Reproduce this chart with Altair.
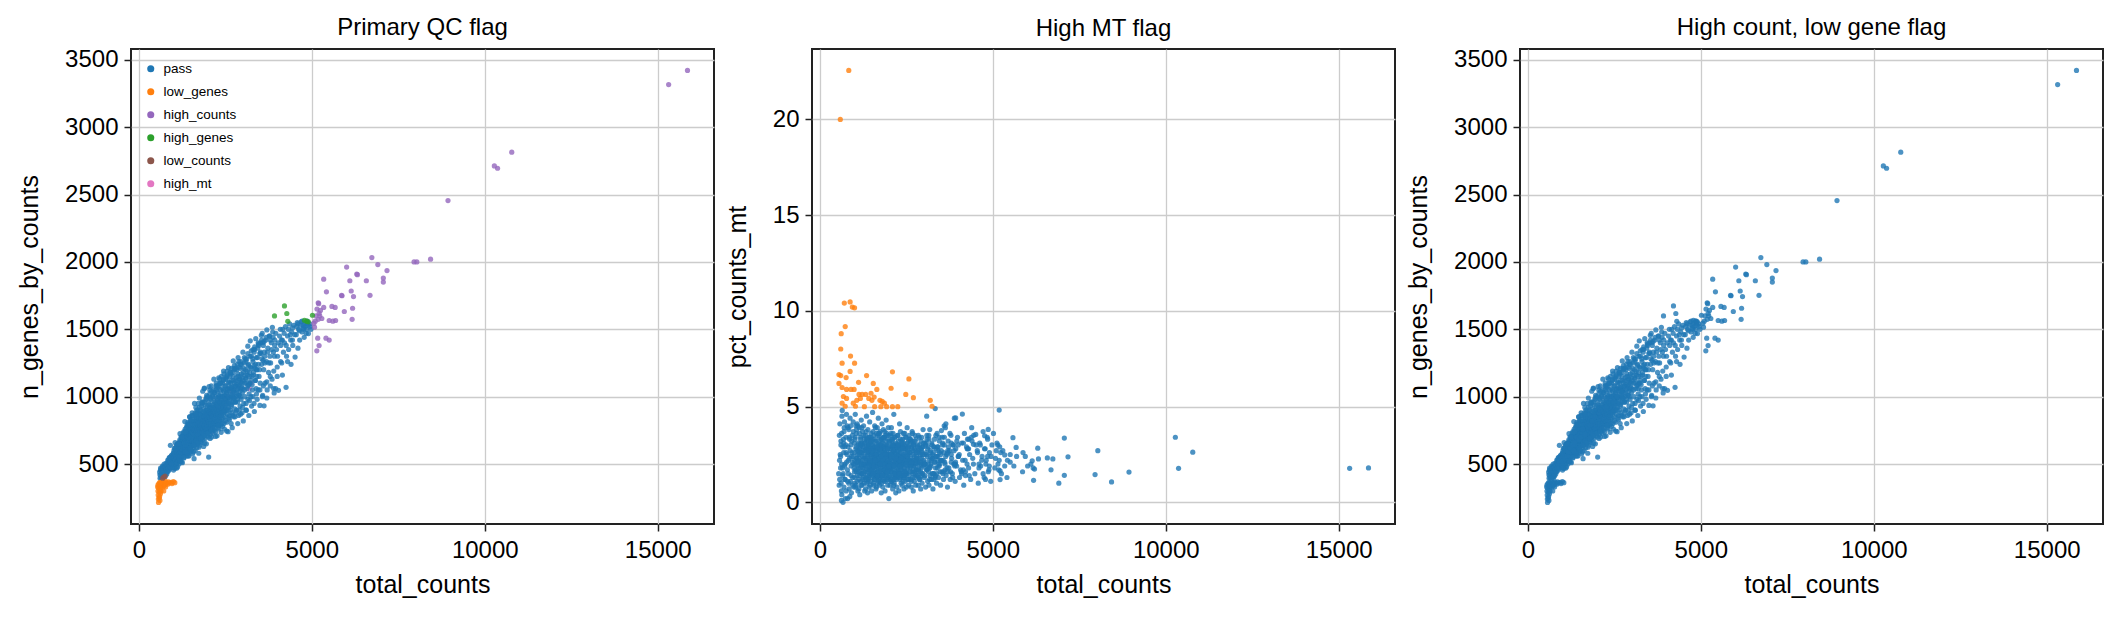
import altair as alt
import pandas as pd

FONT = "Liberation Sans"
FLAGS = ["pass", "low_genes", "high_counts", "high_genes", "low_counts", "high_mt"]
COLORS = ["#1f77b4", "#ff7f0e", "#9467bd", "#2ca02c", "#8c564b", "#e377c2"]
X_TICKS = [0, 5000, 10000, 15000]
Y_TICKS_GENES = [500, 1000, 1500, 2000, 2500, 3000, 3500]
Y_TICKS_MT = [0, 5, 10, 15, 20]
TITLES = ["Primary QC flag", "High MT flag", "High count, low gene flag"]

# cells: (total_counts, n_genes_by_counts, pct_counts_mt)
PASS = [
    (610,420,3.2),(625,455,0.1),(640,398,4.5),(655,440,1.8),(670,470,0.0),(690,412,2.6),(705,480,3.9),(720,430,1.2),(740,462,0.2),(755,405,3.4),(775,448,2.1),(790,490,4.0),
    (805,425,0.2),(815,470,2.9),(825,510,1.5),(840,445,3.8),(850,495,0.7),(860,530,2.3),(875,455,4.4),(885,505,1.1),(895,550,3.0),(905,470,1.9),(915,520,0.5),(930,490,2.6),(940,560,3.5),(950,505,1.3),(965,540,4.2),(975,475,2.0),(985,525,0.8),(995,580,3.1),(912,639,2.4),
    (1005,455,2.2),(1010,530,1.0),(1015,600,3.3),(1025,490,4.6),(1030,560,1.7),(1040,510,2.8),(1050,620,0.9),(1055,470,3.6),(1065,545,2.1),(1075,590,1.4),(1080,505,4.1),(1090,640,2.5),(1100,560,0.6),(1105,525,3.0),(1115,605,1.8),(1120,480,2.7),(1130,570,1.2),(1140,650,3.9),(1145,535,2.3),(1155,600,0.4),(1160,500,1.6),(1170,625,2.9),(1180,555,3.4),(1185,680,1.1),(1190,585,2.0),(1198,520,4.3),
    (1205,610,1.5),(1210,540,2.6),(1215,670,3.1),(1220,580,0.9),(1230,640,2.2),(1235,515,3.7),(1245,700,1.8),(1250,600,2.9),(1260,560,1.3),(1265,655,4.0),(1275,620,2.4),(1280,730,1.0),(1290,585,3.3),(1295,680,2.0),(1305,545,2.7),(1310,640,1.6),(1320,710,3.5),(1325,600,0.7),(1335,665,2.3),(1340,760,1.9),(1350,575,4.5),(1355,630,2.8),(1365,695,1.4),(1370,600,3.2),(1375,740,2.1),(1380,650,0.5),(1385,560,2.5),(1390,700,3.8),(1393,620,1.2),(1396,780,2.6),(1398,680,1.7),(1399,590,3.0),
    (1402,640,2.1),(1408,720,1.3),(1412,580,3.4),(1418,810,2.6),(1425,670,0.8),(1430,750,2.9),(1436,610,1.7),(1441,700,4.2),(1447,560,2.3),(1452,790,1.5),(1458,660,3.1),(1463,730,2.0),(1469,850,2.7),(1474,620,1.1),(1480,690,3.6),(1486,770,2.4),(1491,590,1.9),(1497,710,0.6),(1503,650,2.8),(1508,830,1.6),(1514,740,3.3),(1519,600,2.2),(1525,680,4.7),(1530,760,1.4),(1536,640,2.5),(1541,880,3.0),(1547,700,1.8),(1552,575,2.7),(1558,790,0.9),(1563,660,3.5),(1569,730,2.0),(1574,620,1.2),(1580,810,2.9),(1586,690,4.0),(1591,750,1.7),(1597,540,2.4),
    (1603,700,2.3),(1608,780,1.4),(1613,640,3.2),(1618,860,2.0),(1623,720,0.7),(1628,600,2.8),(1634,810,1.9),(1639,680,3.6),(1644,750,2.5),(1649,920,1.3),(1655,660,2.2),(1660,790,3.9),(1665,710,1.6),(1670,840,2.7),(1676,620,1.0),(1681,740,3.1),(1686,880,2.1),(1691,690,4.4),(1697,770,1.8),(1702,650,2.6),(1707,820,1.2),(1712,730,3.4),(1718,950,2.3),(1723,700,0.9),(1728,800,2.9),(1733,580,1.5),(1739,760,3.7),(1744,680,2.0),(1749,870,1.1),(1754,730,2.4),(1760,640,3.0),(1765,830,1.7),(1770,710,2.8),(1775,780,0.5),(1781,900,3.3),(1786,670,2.2),(1791,750,1.4),(1797,810,4.1),
    (1802,720,2.0),(1807,800,3.2),(1812,660,1.3),(1817,880,2.5),(1822,750,0.8),(1827,950,2.9),(1833,700,1.7),(1838,830,3.8),(1843,780,2.2),(1848,1040,1.5),(1853,680,2.7),(1859,860,1.1),(1864,740,3.4),(1869,910,2.3),(1874,630,1.9),(1880,790,2.6),(1885,850,0.6),(1890,720,3.0),(1896,1063,2.4),(1901,810,1.6),(1906,760,2.9),(1911,940,2.1),(1917,690,4.3),(1922,870,1.4),(1927,800,2.5),(1932,730,3.6),(1938,980,2.0),(1943,840,1.2),(1948,770,2.8),(1953,650,1.8),(1959,900,3.3),(1964,820,0.9),(1969,710,2.4),(1974,880,1.7),(1980,760,3.9),(1985,1000,2.2),(1990,840,1.3),(1996,790,0.2),
    (2003,760,2.1),(2008,880,1.5),(2013,700,3.1),(2019,552,2.4),(2024,960,2.6),(2029,800,0.9),(2035,850,1.8),(2040,740,3.5),(2046,920,2.3),(2051,1050,1.2),(2057,780,2.8),(2062,870,1.6),(2068,720,3.9),(2073,990,2.0),(2079,830,1.1),(2084,900,3.2),(2090,760,2.5),(2095,1080,1.7),(2101,860,2.9),(2106,700,0.7),(2112,940,2.2),(2117,810,3.6),(2123,880,1.4),(2128,770,2.7),(2134,1010,1.9),(2139,840,4.6),(2145,730,2.3),(2150,920,1.0),(2156,860,3.0),(2161,790,2.0),(2167,970,1.5),(2172,820,2.6),(2178,900,3.4),(2183,750,1.3),(2189,880,2.1),(2195,1030,0.5),
    (2204,800,2.4),(2210,920,1.6),(2217,740,3.0),(2223,1000,2.1),(2229,860,0.8),(2236,1100,2.7),(2242,790,1.9),(2248,950,3.5),(2255,880,1.3),(2261,710,2.5),(2267,1040,1.7),(2274,830,3.2),(2280,970,2.2),(2286,900,0.6),(2293,770,2.9),(2299,1080,1.5),(2305,850,4.1),(2312,1010,2.0),(2318,930,1.2),(2324,760,2.6),(2331,880,3.7),(2337,1130,1.8),(2343,960,2.3),(2350,820,1.0),(2356,1050,3.0),(2362,900,2.1),(2369,790,1.4),(2375,990,2.8),(2381,860,0.9),(2388,1150,2.4),(2394,940,3.3),(2399,830,1.6),
    (2405,880,2.0),(2412,1000,1.3),(2419,780,3.1),(2426,1100,2.4),(2433,930,0.7),(2440,840,2.8),(2447,1050,1.8),(2454,960,3.6),(2461,1170,2.2),(2468,880,1.1),(2475,760,2.6),(2482,1010,3.4),(2489,920,1.5),(2496,1080,2.9),(2503,850,0.8),(2510,980,2.1),(2517,1140,1.6),(2524,900,3.9),(2531,1030,2.3),(2538,810,1.2),(2545,950,2.7),(2552,1190,1.9),(2559,870,3.2),(2566,1060,0.9),(2573,990,2.5),(2580,740,1.4),(2587,920,3.0),(2594,1110,2.2),
    (2605,950,1.8),(2613,1060,2.6),(2621,860,3.3),(2629,1150,1.2),(2637,990,2.2),(2645,900,0.8),(2653,1100,2.9),(2661,1020,1.6),(2669,800,3.7),(2677,1210,2.1),(2685,940,1.3),(2693,1070,2.7),(2701,880,0.6),(2709,1000,3.1),(2717,1180,1.9),(2725,960,2.4),(2733,1120,1.1),(2741,850,2.8),(2749,1050,3.5),(2757,990,1.5),(2765,1230,2.2),(2773,910,0.9),(2781,1080,2.6),(2790,960,1.7),
    (2805,1000,2.3),(2815,1120,1.4),(2825,900,3.0),(2835,1200,2.0),(2845,1050,0.9),(2855,960,2.7),(2865,1150,1.6),(2875,1080,3.4),(2885,860,2.1),(2895,1260,1.2),(2905,1010,2.5),(2915,1130,0.7),(2925,930,3.2),(2935,1210,1.8),(2945,1060,2.3),(2955,980,1.0),(2965,1170,2.9),(2975,1100,1.5),(2985,880,3.8),(2995,1030,2.0),
    (3010,1060,2.2),(3022,1180,1.3),(3034,950,3.1),(3046,1250,2.0),(3058,1100,0.8),(3070,1000,2.6),(3082,1200,1.7),(3090,1140,4.5),(3094,1130,3.5),(3106,900,2.4),(3118,1280,1.1),(3130,1060,2.9),(3142,1160,1.6),(3154,980,0.9),(3166,1230,2.2),(3178,1090,3.8),(3190,1020,1.4),(3198,1180,2.7),
    (3210,1100,2.0),(3225,1220,1.2),(3240,1000,3.0),(3255,1300,2.3),(3270,1150,0.7),(3285,1050,2.6),(3300,1260,1.5),(3315,1180,3.3),(3330,950,2.1),(3335,1230,4.9),(3345,1350,1.8),(3360,1120,2.8),(3375,1240,1.0),(3390,1060,3.6),(3398,1200,2.2),
    (3410,1150,2.4),(3430,1290,1.3),(3450,1050,3.4),(3470,1380,2.0),(3490,1200,0.9),(3510,1100,2.7),(3515,1330,3.75),(3530,1320,1.6),(3550,1240,3.1),(3567,1469,2.2),(3575,1000,1.2),(3585,1400,2.6),(3595,1270,4.0),
    (3610,1200,2.1),(3620,932,1.7),(3630,1330,3.9),(3644,1250,4.1),(3650,1100,1.4),(3670,1420,2.5),(3690,1260,0.8),(3710,1050,3.2),(3730,1360,1.8),(3750,1180,2.7),(3770,1450,1.2),(3790,1300,3.5),
    (3810,1250,2.3),(3830,1400,1.5),(3850,1130,3.0),(3870,1480,2.0),(3890,1330,4.4),(3912,1028,1.1),(3927,1380,4.41),(3930,1420,2.8),(3955,1060,1.9),(3980,1350,3.4),
    (4010,1300,2.4),(4038,1047,1.3),(4070,1450,1.7),(4100,1380,3.1),(4120,1420,4.61),(4130,1250,2.2),(4160,1500,0.9),(4180,1330,3.6),(4256,1069,2.0),
    (4210,1400,1.4),(4240,1520,2.9),(4270,1300,3.3),(4300,1450,1.8),(4330,1350,2.5),(4360,1540,1.2),(4390,1420,3.9),
    (4420,1480,2.3),(4442,1510,3.03),(4450,1380,3.5),(4480,1530,1.5),(4507,1460,3.55),(4517,1294,3.0),(4550,1460,2.7),(4580,1550,1.0),
    (4620,1500,3.1),(4650,1420,1.9),(4690,1555,2.4),(4720,1480,3.7),(4750,1530,1.3),(4764,1500,3.48),(4780,1440,2.8),
    (4810,1520,2.2),(4840,1470,3.4),(4867,1545,3.81),(4870,1560,1.6),(4903,1468,2.6),(4940,1540,1.1),(4975,1500,3.0),
]

PASS_CORE = [
    (602,440,2.4),(615,395,1.0),(628,470,3.6),(636,420,0.4),(648,455,4.8),(662,400,2.9),(676,430,1.5),(684,485,3.3),(698,445,0.8),(712,470,4.2),(726,415,2.0),(733,500,1.2),(748,440,3.0),(762,480,0.6),(770,425,4.6),(784,505,2.5),(798,460,1.7),(812,440,3.9),(826,490,2.2),(838,530,1.0),(852,470,3.4),(866,500,0.3),(878,545,2.7),(892,480,4.0),(906,515,1.4),(921,550,3.2),(936,505,2.1),(952,565,0.9),(968,500,3.7),(988,550,1.8),
    (1003,580,2.6),(1012,495,1.3),(1021,545,3.4),(1029,615,2.0),(1037,470,0.8),(1046,575,2.9),(1054,530,1.6),(1062,600,3.8),(1071,500,2.3),(1079,555,1.1),(1088,625,2.7),(1096,540,4.0),(1104,585,1.9),(1113,510,3.1),(1121,650,2.2),(1129,565,0.7),(1138,600,2.5),(1146,525,3.6),(1154,640,1.4),(1163,575,2.8),(1171,545,1.8),(1179,665,3.3),(1188,610,2.1),(1196,560,0.9),(1204,640,2.6),(1213,590,3.9),(1221,700,1.5),(1229,620,2.4),(1238,555,3.0),(1246,660,1.2),(1254,600,2.7),(1263,710,2.0),(1271,640,3.5),(1279,580,1.6),(1288,675,2.3),(1296,620,0.6),(1304,740,3.1),(1313,655,1.9),(1321,590,2.8),(1329,700,1.3),(1338,630,3.7),(1346,680,2.2),(1354,610,1.0),(1363,720,2.9),(1371,660,1.7),(1379,770,3.3),(1388,640,2.4),(1396,700,1.1),(1404,600,3.0),(1413,745,2.0),(1421,660,2.6),(1429,700,1.4),(1438,800,3.4),(1446,640,2.1),(1454,720,0.9),(1463,680,2.8),(1471,760,1.8),(1479,620,3.2),(1488,710,2.5),(1496,820,1.5),
    (1502,690,2.2),(1509,760,1.3),(1516,640,3.0),(1523,720,2.6),(1530,800,1.8),(1537,670,3.7),(1544,740,2.1),(1551,860,1.0),(1558,700,2.8),(1565,760,1.6),(1572,640,3.3),(1579,730,2.4),(1586,820,1.2),(1593,690,2.9),(1600,750,2.0),(1607,660,3.9),(1614,790,1.5),(1621,720,2.7),(1628,880,2.2),(1635,760,0.8),(1642,700,3.2),(1649,830,1.9),(1656,740,2.5),(1663,680,1.4),(1670,780,3.5),(1677,720,2.1),(1684,850,1.7),(1691,760,2.9),(1698,700,1.1),(1705,800,3.0),(1712,740,2.3),(1719,900,1.6),(1726,780,2.6),(1733,720,3.6),(1740,840,1.3),(1747,760,2.0),(1754,690,2.8),(1761,810,1.8),(1768,740,3.3),(1775,870,2.4),(1782,780,1.0),(1789,720,2.7),(1796,840,2.1),(1803,760,3.1),(1810,930,1.5),(1817,800,2.5),(1824,740,1.9),(1831,860,3.4),(1838,770,2.2),(1845,700,1.2),(1852,820,2.9),(1859,760,1.7),(1866,890,2.6),(1873,800,3.7),(1880,740,2.0),(1887,850,1.4),(1894,780,2.8),(1901,960,2.3),(1908,820,1.1),(1915,760,3.2),(1922,880,2.0),(1929,800,2.6),(1936,740,1.6),(1943,900,3.0),(1950,820,2.4),(1957,760,1.3),(1964,860,2.9),(1971,790,1.9),(1978,930,3.5),(1985,830,2.2),
    (2002,810,2.5),(2010,900,1.4),(2018,760,3.2),(2025,850,2.1),(2033,940,1.8),(2041,800,2.8),(2048,880,1.1),(2056,760,3.6),(2064,920,2.3),(2071,840,1.6),(2079,980,2.9),(2087,800,2.0),(2094,870,3.3),(2102,760,1.3),(2110,910,2.6),(2117,850,1.9),(2125,1000,3.0),(2133,820,2.4),(2140,890,0.9),(2148,780,2.7),(2156,940,1.7),(2163,860,3.4),(2171,800,2.2),(2179,1030,1.5),(2186,900,2.8),(2194,840,2.0),(2202,960,3.1),(2209,880,1.2),(2217,800,2.5),(2225,920,1.8),(2232,1050,2.9),(2240,860,2.3),(2248,940,1.4),(2255,820,3.5),(2263,990,2.0),(2271,900,2.7),(2278,840,1.6),(2286,1070,2.4),(2294,930,3.0),(2301,870,1.9),(2309,960,2.2),(2317,820,2.8),(2324,1000,1.3),(2332,900,3.3),(2340,850,2.1),(2347,1100,1.7),(2355,960,2.6),(2363,880,2.0),(2370,1020,3.2),(2378,920,1.5),(2386,860,2.4),(2393,980,2.9),(2401,900,1.1),(2409,1060,2.3),(2416,940,3.6),(2424,880,1.8),(2432,1000,2.5),(2439,920,2.0),(2447,1120,1.4),(2455,960,3.0),(2462,890,2.2),(2470,1040,1.6),(2478,950,2.8),(2485,1000,2.1),(2493,900,3.4),
    (2505,980,2.2),(2516,1080,1.5),(2527,920,3.1),(2538,1020,2.4),(2549,1150,1.8),(2560,960,2.9),(2571,1050,1.2),(2582,900,3.5),(2593,1000,2.0),(2604,1100,2.6),(2615,960,1.6),(2626,1040,3.2),(2637,1180,2.3),(2648,990,1.1),(2659,1070,2.8),(2670,930,2.0),(2681,1120,3.6),(2692,1010,1.5),(2703,1060,2.5),(2714,960,1.9),(2725,1150,3.0),(2736,1040,2.2),(2747,990,1.3),(2758,1100,2.7),(2769,1200,2.0),(2780,1030,3.3),(2791,960,1.7),(2802,1080,2.4),(2813,1140,1.4),(2824,1020,2.9),(2835,1090,2.1),(2846,980,3.5),(2857,1170,1.8),(2868,1060,2.6),(2879,1120,1.2),(2890,1010,3.0),(2901,1220,2.3),(2912,1090,1.6),(2923,1040,2.8),(2934,1150,2.0),(2945,1000,3.4),(2956,1110,1.5),(2967,1240,2.5),(2978,1070,1.9),(2989,1140,2.9),
    (3015,1120,2.1),(3035,1210,1.4),(3055,1050,3.0),(3075,1160,2.5),(3095,1260,1.7),(3115,1100,2.8),(3135,1190,2.0),(3155,1080,3.3),(3175,1240,1.2),(3195,1150,2.6),(3215,1300,1.9),(3235,1120,3.1),(3255,1210,2.3),(3275,1090,1.5),(3295,1280,2.9),(3315,1160,2.1),(3335,1330,1.3),(3355,1210,3.5),(3375,1120,2.4),(3395,1290,1.8),(3415,1200,2.7),(3435,1360,2.0),(3455,1240,3.2),(3475,1150,1.6),(3495,1320,2.5),
    (3520,1400,2.2),(3560,1280,1.5),(3600,1380,3.0),(3640,1300,2.4),(3680,1440,1.8),(3720,1330,2.9),(3760,1250,3.6),(3800,1420,2.1),(3840,1350,1.3),(3880,1440,2.7),(3920,1300,2.0),(3960,1470,3.2),
    (4030,1400,2.5),(4090,1500,1.6),(4150,1420,3.1),(4200,1470,2.2),(4260,1380,2.8),(4320,1500,1.4),(4380,1460,3.4),(4440,1420,2.0),
    (4560,1520,2.6),(4600,1540,1.8),(4640,1490,3.0),(4680,1530,2.2),(4720,1560,1.5),(4760,1510,2.8),(4800,1545,2.0),(4850,1500,3.3),(4890,1530,1.7),(4950,1520,2.4),
]

PASS_EDGE_HIGH = [
    (1050,660,2.3),(1120,650,1.6),(1190,725,3.1),(1260,700,2.0),(1330,815,1.2),(1400,790,2.7),(1470,850,3.4),(1540,860,1.9),(1610,950,2.5),(1680,900,1.4),
    (1750,990,3.0),(1820,960,2.2),(1890,1060,1.7),(1960,1010,2.8),(2030,1075,2.0),(2100,1040,3.3),(2170,1130,1.5),(2240,1080,2.4),(2310,1140,1.9),(2380,1100,2.9),
    (2450,1190,1.3),(2520,1130,2.6),(2590,1215,2.1),(2660,1170,3.2),(2730,1265,1.6),(2800,1210,2.3),(2870,1290,2.8),(2940,1240,1.4),(3010,1330,2.5),(3080,1280,3.1),
    (3150,1375,1.8),(3222,1414,2.2),(3300,1350,2.9),(3380,1430,1.5),(3460,1390,2.6),(3540,1455,3.4),(3620,1410,2.0),(3700,1495,2.7),(3780,1450,1.6),(3860,1515,3.0),
]

PASS_EDGE_LOW = [
    (1100,470,2.1),(1180,530,3.0),(1260,510,1.5),(1340,590,2.6),(1420,560,1.9),(1500,620,3.2),(1580,590,2.3),(1660,670,1.4),(1740,625,2.8),(1820,700,2.0),
    (1900,655,3.5),(1980,730,1.7),(2060,690,2.5),(2140,760,1.2),(2220,705,2.9),(2300,790,2.2),(2380,735,3.1),(2460,800,1.6),(2540,745,2.4),(2620,830,1.9),
    (2700,770,3.0),(2780,850,2.1),(2860,800,1.3),(2940,870,2.7),(3020,820,2.0),(3100,900,3.3),(3180,860,1.8),(3260,930,2.5),(3340,890,1.4),(3420,980,2.9),
    (3500,935,2.2),(3580,1010,1.6),(3700,990,2.6),(3800,1080,3.1),(3900,1060,1.9),(4000,1150,2.4),(4150,1160,1.7),(4300,1260,2.8),(4400,1240,3.2),(4600,1360,2.0),
]

PASS_FILL = [
    (1150,650,2.6),(1250,700,1.8),(1350,740,3.3),(1450,790,2.2),(1550,830,1.5),(1650,870,2.9),(1750,920,2.0),(1850,960,3.4),(1950,990,1.6),(2050,1020,2.5),
    (2150,1050,1.9),(2250,1080,3.0),(2350,1100,2.3),(2450,1130,1.4),(2550,1160,2.8),(2650,1180,2.1),(2750,1210,3.2),(2850,1240,1.7),(2950,1260,2.6),(3050,1290,2.0),
    (3150,1320,3.5),(3250,1340,1.5),(3350,1370,2.4),(3450,1400,1.9),(3550,1420,3.0),
    (1200,520,2.0),(1300,550,3.1),(1400,580,1.6),(1500,610,2.7),(1600,640,2.2),(1700,660,3.6),(1800,690,1.4),(1900,710,2.5),(2000,730,1.9),(2100,750,3.0),
    (2200,770,2.3),(2300,790,1.5),(2400,800,2.8),(2500,820,2.0),(2600,840,3.3),(2700,860,1.7),(2800,880,2.6),(2900,900,2.1),(3000,920,3.1),(3100,950,1.8),
    (3200,970,2.4),(3300,1000,1.2),(3400,1020,2.9),(3500,1050,2.2),(3600,1080,3.4),(3700,1110,1.6),(3800,1150,2.5),(3900,1190,2.0),(4000,1220,3.0),(4100,1260,1.5),
]

LOW_GENES = [
    (545,330,1.5),(554,300,6.68),(554,345,6.21),(560,270,0.9),(565,240,3.5),(570,215,2.2),(575,320,1.2),(580,355,4.1),
    (590,290,2.5),(592,250,20.0),(600,260,1.8),(605,335,8.01),(605,365,6.62),(610,230,3.0),(618,310,8.81),(625,280,0.6),
    (630,350,2.0),(644,325,7.27),(644,300,6.0),(644,360,5.18),(660,340,1.4),(682,370,5.53),(700,330,3.7),(708,355,10.41),
    (720,300,2.9),(734,365,9.18),(734,340,5.02),(760,350,6.52),(773,372,5.9),(773,330,5.43),(800,360,1.1),(837,350,22.56),
    (860,368,3.3),(876,360,10.47),(940,365,10.2),(960,355,2.4),(1000,370,1.6),(1040,362,4.0),
]

HIGH_COUNTS = [
    (15860,3421,1.8),(15315,3316,1.78),(10780,2814,2.62),(10277,2712,3.4),(10370,2695,1.78),(8937,2455,1.58),(8433,2020,1.07),
    (7956,2000,1.45),(8036,2000,2.7),(7174,1936,2.38),(7068,1880,3.36),(7068,1850,1.41),(6909,1980,1.0),(6736,2032,2.27),
    (6683,1752,1.7),(6577,1860,2.32),(6299,1910,2.83),(6320,1905,2.27),(6206,1743,1.74),(6139,1784,2.17),(6179,1656,1.15),
    (6166,1574,1.8),(6100,1860,2.0),(6007,1962,1.9),(5940,1632,2.4),(5874,1749,2.6),(5860,1752,1.6),(5675,1662,2.87),
    (5688,1565,2.4),(5609,1560,1.9),(5582,1670,3.38),(5503,1565,2.1),(5503,1420,2.5),(5423,1778,2.2),(5410,1434,1.3),
    (5344,1872,2.48),(5344,1662,1.9),(5211,1618,1.64),(5230,1600,2.6),(5211,1379,1.19),(5185,1697,4.82),(5200,1690,2.9),
    (5185,1574,2.2),(5171,1434,1.7),(5145,1340,3.0),(5078,1516,2.3),(5150,1650,2.0),(5120,1600,3.1),(5250,1640,1.5),
    (5290,1580,2.7),(5060,1545,1.8),(5100,1560,2.7),
]

HIGH_GENES = [
    (3922,1599,2.1),(4210,1673,1.6),(4278,1617,2.8),(4306,1559,3.3),(4788,1567,1.2),(4850,1560,2.4),(5019,1604,3.6),(4900,1555,1.9),
]

LOW_COUNTS = [(720,403,1.9),(690,395,3.1),(760,410,2.6)]

HIGH_MT = [
    (876,500,6.84),(888,470,7.64),(901,520,5.9),(966,542,5.18),(991,490,5.9),(1004,470,10.16),(1004,520,7.27),(1030,560,5.02),
    (1069,540,5.33),(1120,600,6.27),(1133,560,5.64),(1172,590,5.43),(1223,620,5.64),(1288,640,5.0),(1326,600,5.64),(1352,660,6.62),
    (1416,700,5.43),(1480,680,5.7),(1506,720,5.33),(1545,700,6.21),(1571,740,5.5),(1584,760,5.0),(1648,720,5.9),(1738,780,5.33),
    (1764,800,5.0),(1803,790,5.27),(1867,820,5.18),(1931,850,5.0),(2060,880,5.96),(2099,737,6.82),(2099,900,5.0),(2253,920,5.0),
    (2485,960,5.64),(2575,1000,6.45),(2704,1040,5.47),(3193,1060,5.33),(3245,1101,5.02),
]

MT_CUTOFF = 4.95

rows = []
for flag, cells in [("pass", PASS), ("pass", PASS_CORE), ("pass", PASS_EDGE_HIGH), ("pass", PASS_EDGE_LOW),
                    ("pass", PASS_FILL), ("low_genes", LOW_GENES), ("high_counts", HIGH_COUNTS),
                    ("high_genes", HIGH_GENES), ("low_counts", LOW_COUNTS), ("high_mt", HIGH_MT)]:
    for tc, ng, pct in cells:
        rows.append({"total_counts": tc, "n_genes_by_counts": ng, "pct_counts_mt": pct, "flag": flag})
df = pd.DataFrame(rows)
df["mt_flag"] = (df["pct_counts_mt"] >= MT_CUTOFF).map({True: "True", False: "False"})
df["z1"] = df["flag"].map({"high_mt": 0, "pass": 1}).fillna(2)
df["z2"] = (df["pct_counts_mt"] >= MT_CUTOFF).astype(int)

W, H = 583, 475
xenc = alt.X("total_counts:Q",
             scale=alt.Scale(domain=[-226, 16626], nice=False, zero=False),
             axis=alt.Axis(values=X_TICKS, title="total_counts", labelFlush=False, format="d"))

def genes_y(tp):
    return alt.Y("n_genes_by_counts:Q",
                 scale=alt.Scale(domain=[55, 3580], nice=False, zero=False),
                 axis=alt.Axis(values=Y_TICKS_GENES, title="n_genes_by_counts", titlePadding=tp, format="d"))

base = alt.Chart(df).mark_circle(size=27, opacity=0.8, strokeWidth=0)

p1 = base.encode(
    x=xenc, y=genes_y(22),
    color=alt.Color("flag:N", scale=alt.Scale(domain=FLAGS, range=COLORS),
                    legend=alt.Legend(title=None, orient="top-left", offset=13, padding=0,
                                      rowPadding=8, labelOffset=6, symbolSize=50,
                                      symbolType="circle", symbolStrokeWidth=0, symbolOpacity=1,
                                      labelFontSize=13.5, labelFont=FONT, labelColor="black")),
    order=alt.Order("z1:Q"),
).properties(width=W, height=H, title=TITLES[0])

p2 = base.encode(
    x=xenc,
    y=alt.Y("pct_counts_mt:Q", scale=alt.Scale(domain=[-1.13, 23.68], nice=False, zero=False),
            axis=alt.Axis(values=Y_TICKS_MT, title="pct_counts_mt", titlePadding=22, format="d")),
    color=alt.Color("mt_flag:N", scale=alt.Scale(domain=["False", "True"], range=[COLORS[0], COLORS[1]]),
                    legend=None),
    order=alt.Order("z2:Q"),
).properties(width=W, height=H, title=TITLES[1])

p3 = base.encode(
    x=xenc, y=genes_y(22),
    color=alt.value(COLORS[0]),
).properties(width=W, height=H, title=TITLES[2])

chart = alt.hconcat(p1, p2, p3, spacing=9).resolve_scale(
    color="independent"
).resolve_legend(
    color="independent"
).properties(
    padding={"left": 16, "top": 14, "right": 5, "bottom": 5},
    background="white",
).configure_axis(
    labelFont=FONT, titleFont=FONT, labelFontSize=24, titleFontSize=25,
    titleFontWeight="normal", labelColor="black", titleColor="black",
    tickColor="#222", tickSize=7, tickWidth=1.5, domain=False,
    grid=True, gridColor="#cccccc", gridWidth=1.3, zindex=1, labelPadding=6,
).configure_axisX(titlePadding=10, labelPadding=7).configure_view(
    stroke="#222", strokeWidth=2
).configure_title(
    font=FONT, fontSize=24, fontWeight="normal", color="black", offset=8, anchor="middle"
)

chart.save("out.html", embed_options={"renderer": "svg", "actions": False})
